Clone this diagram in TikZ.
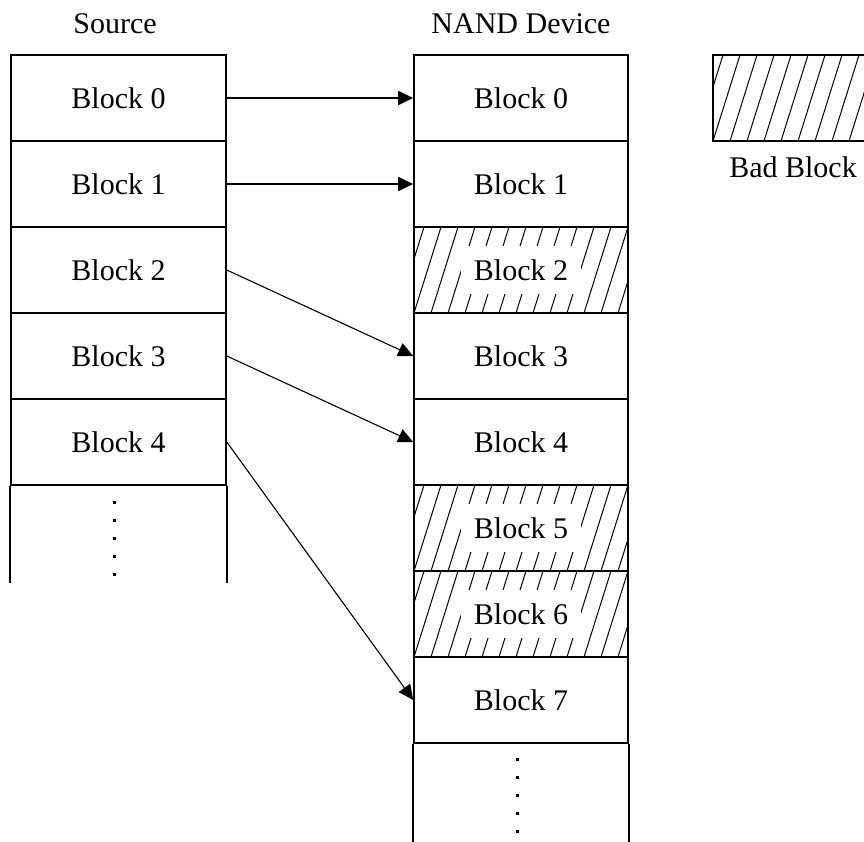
\documentclass[tikz,border=0pt]{standalone}
\usepackage{fontspec}
\setmainfont{Liberation Serif}
\usetikzlibrary{arrows.meta}
\setlength{\fboxsep}{13pt}
\begin{document}
\begin{tikzpicture}[x=1pt,y=-1pt,
  txt/.style={font=\fontsize{30}{36}\selectfont, inner sep=0pt},
  cell/.style={txt, draw, line width=1.6pt, minimum height=86pt},
  srccell/.style={cell, minimum width=215pt},
  nandcell/.style={cell, minimum width=214pt},
  hatched/.style={path picture={
      \foreach \k in {-2,...,14}{
        \draw[line width=1pt] ([xshift=\k*17pt]path picture bounding box.south west) -- ++(27pt,86pt);
      }}},
  conn/.style={-{Triangle[length=15pt,width=14pt]}, line width=1.2pt},
  straightconn/.style={conn, line width=1.7pt},
  slantconn/.style={conn, line width=1.1pt},
  vdot/.style={fill=black}
]
\useasboundingbox (0,0) rectangle (864,841);
\clip (0,0) rectangle (864,841);
\fill[white] (0,0) rectangle (864,841);

% titles
\node[txt, anchor=base] (srctitle) at (115,33) {Source};
\node[txt, anchor=base] (nandtitle) at (521,33) {NAND Device};

% source column
\foreach \i in {0,...,4}{
  \node[srccell] (s\i) at (118.5,{98+86*\i}) {Block \i};
}
\draw[line width=1.6pt] (s4.south west) -- ++(0,97);
\draw[line width=1.6pt] (s4.south east) -- ++(0,97);
\foreach \y in {501,519,537,555,573}{
  \fill[vdot] (112.5,\y) rectangle ++(3,3);
}

% NAND column
\foreach \i in {0,1,3,4,7}{
  \node[nandcell] (n\i) at (521,{98+86*\i}) {Block \i};
}
\foreach \i in {2,5,6}{
  \node[nandcell, hatched] (n\i) at (521,{98+86*\i}) {\colorbox{white}{Block \i}};
}
\draw[line width=1.6pt] (n7.south west) -- ++(0,100);
\draw[line width=1.6pt] (n7.south east) -- ++(0,100);
\foreach \y in {758,776,794,812,830}{
  \fill[vdot] (515.5,\y) rectangle ++(3,3);
}

% legend
\node[cell, hatched, minimum width=159pt] (legend) at (792.5,98) {};
\node[txt, anchor=base] (badlbl) at (793,177) {Bad Block};

% connectors
\draw[straightconn] (s0.east) -- (n0.west);
\draw[straightconn] (s1.east) -- (n1.west);
\draw[slantconn] (s2.east) -- (n3.west);
\draw[slantconn] (s3.east) -- (n4.west);
\draw[slantconn] (s4.east) -- (n7.west);
\end{tikzpicture}
\end{document}
